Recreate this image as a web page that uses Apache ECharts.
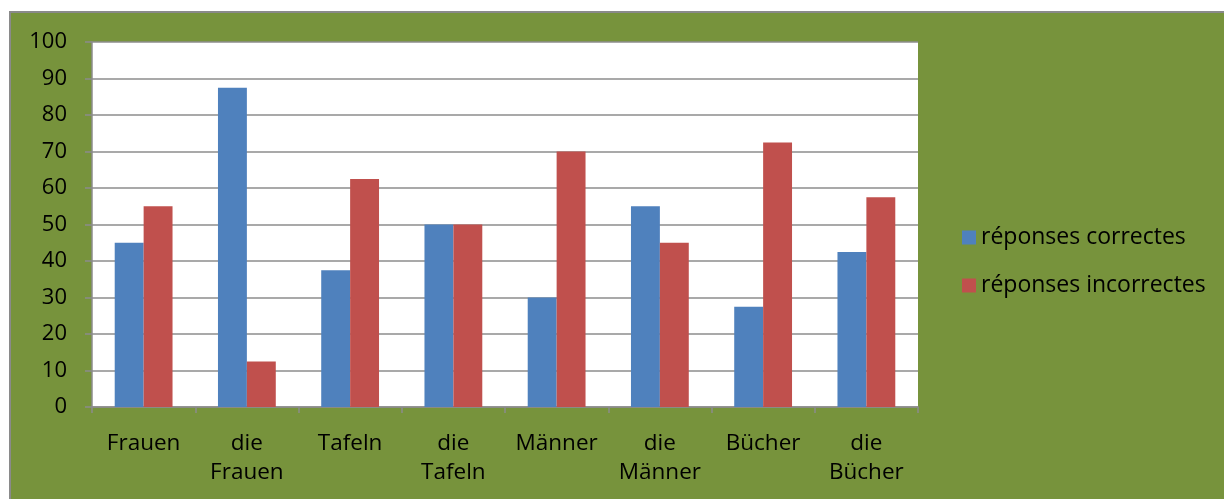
<!DOCTYPE html>
<html>
<head>
<meta charset="utf-8">
<script src="https://cdn.jsdelivr.net/npm/echarts@6/dist/echarts.min.js"></script>
<style>
  html, body { margin: 0; padding: 0; background: #fff; }
  #box {
    position: absolute; left: 9px; top: 11px;
    width: 1213px; height: 486px;
    border-top: 2px solid #8a8a8a; border-left: 2px solid #8a8a8a;
    background: #77933c;
  }
  #chart { width: 1213px; height: 486px; }
</style>
</head>
<body>
<div id="box"><div id="chart"></div></div>
<script>
// categories and values
var categories = ['Frauen', 'die\nFrauen', 'Tafeln', 'die\nTafeln', 'Männer', 'die\nMänner', 'Bücher', 'die\nBücher'];
var correctes = [45, 87.5, 37.5, 50, 30, 55, 27.5, 42.5];
var incorrectes = [55, 12.5, 62.5, 50, 70, 45, 72.5, 57.5];
var yTicks = [0, 10, 20, 30, 40, 50, 60, 70, 80, 90, 100];

var font = '"Open Sans", sans-serif';
var chart = echarts.init(document.getElementById('chart'));

chart.setOption({
  animation: false,
  textStyle: { fontFamily: font },
  grid: {
    left: 81, top: 29, width: 826, height: 365,
    show: true, backgroundColor: '#ffffff', borderWidth: 0
  },
  legend: {
    orient: 'vertical',
    left: 946, top: 208,
    itemWidth: 14, itemHeight: 14, itemGap: 25,
    icon: 'rect',
    textStyle: { fontFamily: font, fontSize: 23, lineHeight: 22, color: '#000' },
    data: ['réponses correctes', 'réponses incorrectes']
  },
  xAxis: {
    type: 'category',
    data: categories,
    axisLine: { lineStyle: { color: '#8c8c8c', width: 1.5 } },
    axisTick: { show: true, length: 6, inside: false, alignWithLabel: false, lineStyle: { color: '#8c8c8c', width: 1.5 } },
    axisLabel: { fontFamily: font, fontSize: 22.5, color: '#000', margin: 22, lineHeight: 29, interval: 0 }
  },
  yAxis: {
    type: 'value',
    min: yTicks[0], max: yTicks[yTicks.length - 1], interval: 10,
    axisLine: { show: true, lineStyle: { color: '#8c8c8c', width: 1.5 } },
    axisTick: { show: true, length: 7, lineStyle: { color: '#8c8c8c', width: 1.5 } },
    splitLine: { lineStyle: { color: '#8c8c8c', width: 1.5 } },
    axisLabel: { fontFamily: font, fontSize: 22, color: '#000', margin: 25 }
  },
  series: [
    {
      name: 'réponses correctes', type: 'bar', data: correctes,
      itemStyle: { color: '#4f81bd' }, barGap: '0%', barCategoryGap: '44%'
    },
    {
      name: 'réponses incorrectes', type: 'bar', data: incorrectes,
      itemStyle: { color: '#c0504d' }, barGap: '0%', barCategoryGap: '44%'
    }
  ]
});
</script>
</body>
</html>
